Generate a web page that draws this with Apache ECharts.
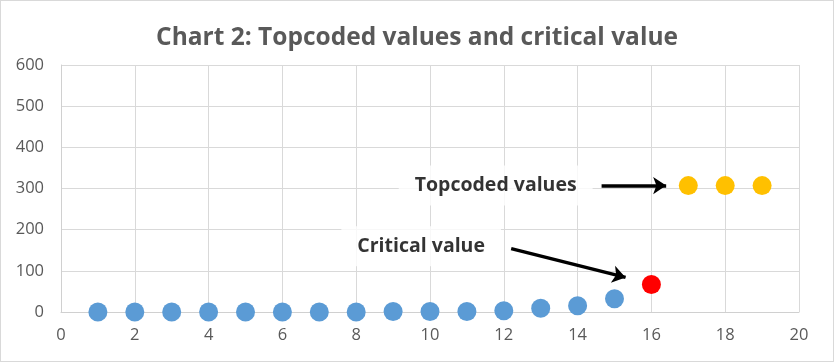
<!DOCTYPE html>
<html><head><meta charset="utf-8">
<script src="https://cdn.jsdelivr.net/npm/echarts@6/dist/echarts.min.js"></script>
<style>html,body{margin:0;padding:0;background:#fff}#c{width:834px;height:362px;box-sizing:border-box;border:1px solid #d9d9d9}</style>
</head><body><div id="c"></div>
<script>
var titleText = 'Chart 2: Topcoded values and critical value';
var xTicks = [0, 2, 4, 6, 8, 10, 12, 14, 16, 18, 20];
var yTicks = [0, 100, 200, 300, 400, 500, 600];
var blueX = [1, 2, 3, 4, 5, 6, 7, 8, 9, 10, 11, 12, 13, 14, 15];
var blueY = [0, 0, 0, 0, 0, 0, 0, 0, 1, 1, 1, 3, 9, 15, 32];
var redX = [16];
var redY = [67];
var topX = [17, 18, 19];
var topY = [307, 307, 307];
var noteTexts = ['Topcoded values', 'Critical value'];
var noteAt = [[11.78, 307], [9.76, 160]];
var arrowFrom = [[14.65, 307], [12.2, 154]];
var arrowTo = [[16.4, 307], [15.3, 84]];

function pairs(xs, ys) { return xs.map(function (x, i) { return [x, ys[i]]; }); }
var chart = echarts.init(document.getElementById('c'));
var font = 'Open Sans';
chart.setOption({
  animation: false,
  title: { text: titleText, left: 'center', top: 20,
    textStyle: { fontFamily: font, fontSize: 24.5, fontWeight: 'bold', color: '#595959' } },
  grid: { left: 60, right: 34, top: 64, bottom: 49 },
  xAxis: { type: 'value', min: xTicks[0], max: xTicks[xTicks.length - 1], interval: 2,
    axisLine: { lineStyle: { color: '#d0d0d0' } }, axisTick: { show: false },
    axisLabel: { color: '#595959', fontFamily: font, fontSize: 16.5, margin: 15 },
    splitLine: { lineStyle: { color: '#d9d9d9' } } },
  yAxis: { type: 'value', min: yTicks[0], max: yTicks[yTicks.length - 1], interval: 100,
    axisLine: { show: true, lineStyle: { color: '#d0d0d0' } }, axisTick: { show: false },
    axisLabel: { color: '#595959', fontFamily: font, fontSize: 16.5, margin: 17 },
    splitLine: { lineStyle: { color: '#d9d9d9' } } },
  series: [
    { type: 'scatter', data: pairs(blueX, blueY), symbolSize: 19, itemStyle: { color: '#5b9bd5', opacity: 1 }, z: 3 },
    { type: 'scatter', data: pairs(redX, redY), symbolSize: 19, itemStyle: { color: '#ff0000', opacity: 1 }, z: 3 },
    { type: 'scatter', data: pairs(topX, topY), symbolSize: 19, itemStyle: { color: '#ffc000', opacity: 1 }, z: 3 },
    { type: 'scatter', symbolSize: 0, z: 4,
      data: noteAt.map(function (p, i) { return { value: p, name: noteTexts[i] }; }),
      label: { show: true, position: 'inside', formatter: '{b}', color: '#000',
        fontFamily: font, fontWeight: 'bold', fontSize: 19.5,
        backgroundColor: '#fff', padding: [10, 16, 10, 16] },
      markLine: { silent: true, symbol: ['none', 'arrow'], symbolSize: 13,
        lineStyle: { color: '#000', width: 3.5, type: 'solid' }, label: { show: false },
        data: arrowFrom.map(function (p, i) { return [{ coord: p }, { coord: arrowTo[i] }]; }) } }
  ]
});
</script></body></html>
